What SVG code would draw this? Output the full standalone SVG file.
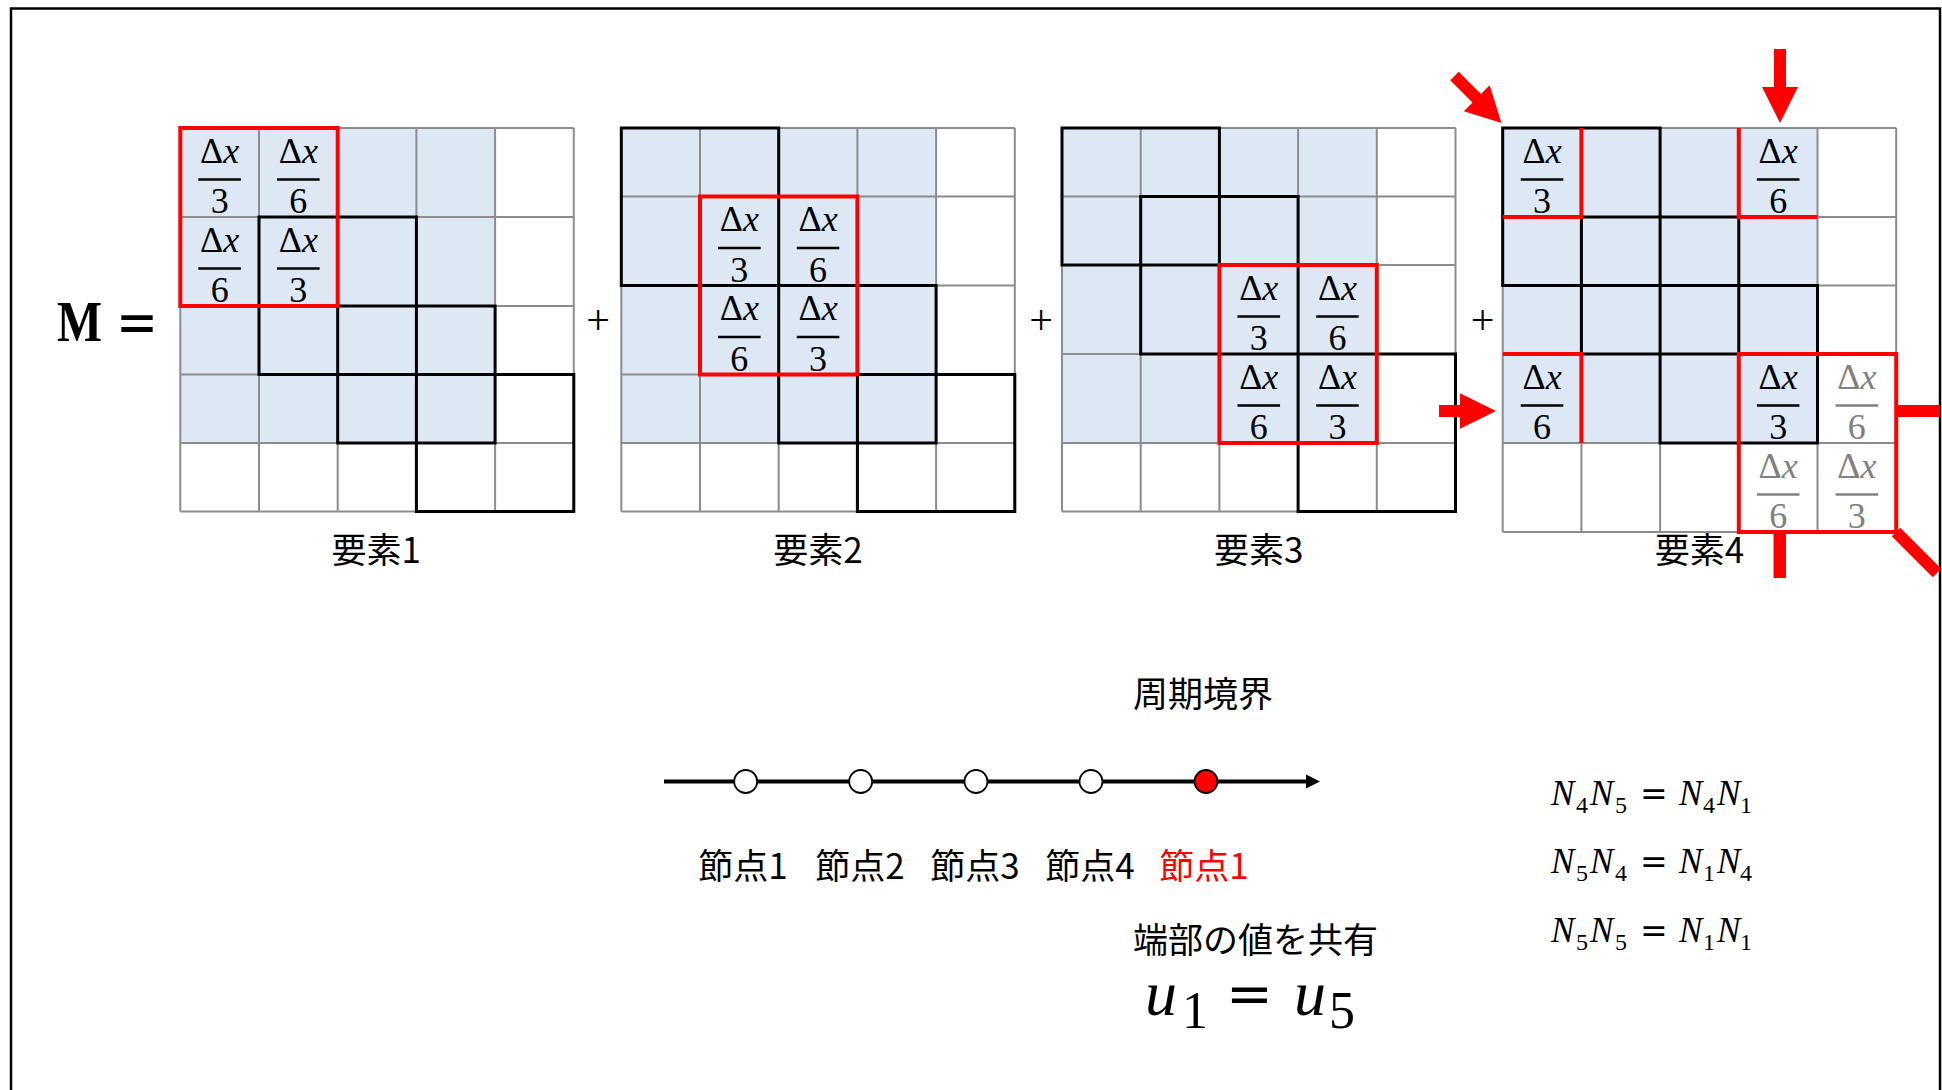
<svg xmlns="http://www.w3.org/2000/svg" width="1942" height="1090" viewBox="0 0 1942 1090">
<style>
.grid{stroke:#8c8c8c;stroke-width:2;fill:none}
.blk{stroke:#000;stroke-width:3;fill:none}
.red{stroke:#ff0000;stroke-width:4;fill:none}
.shade{fill:#dee8f5}
.num{font-family:"Liberation Serif","DejaVu Serif",serif;font-size:36px;text-anchor:middle;fill:#000}
.it{font-style:italic}
.bar{stroke:#000;stroke-width:2.3}
.gr .num{fill:#808080}
.gr .bar{stroke:#808080}
.cjk{font-family:"Noto Sans CJK JP",sans-serif;font-size:35px;fill:#000}
.lbl{text-anchor:middle}
.plus{font-family:"Liberation Serif",serif;font-size:42px;text-anchor:middle}
.math{font-family:"Liberation Serif",serif;font-style:italic;font-size:35px}
.sub{font-style:normal;font-size:24px}
.eq{font-family:"DejaVu Sans",sans-serif;font-style:normal;font-size:33px}
.arrow{fill:#ff0000}
.node{fill:#fff;stroke:#000;stroke-width:1.8}
</style>

<path id="frame" d="M11,1092 V8.5 H1940 V1092" fill="none" stroke="#000" stroke-width="2.5"/>

<g id="M-label">
<text x="57" y="340.5" font-family="Liberation Serif,serif" font-weight="bold" font-size="58" textLength="45" lengthAdjust="spacingAndGlyphs">M</text>
<text x="116" y="342" font-family="DejaVu Sans,sans-serif" font-size="58" textLength="42" lengthAdjust="spacingAndGlyphs">=</text>
</g>

<!-- Matrix 1 -->
<g id="matrix1" transform="translate(180.3,0)">
<rect class="shade" x="0" y="128" width="314.8" height="315"/>
<path class="grid" d="M0,128V511.5M78.7,128V511.5M157.4,128V511.5M236.1,128V511.5M314.8,128V511.5M393.5,128V511.5M0,128H393.5M0,217H393.5M0,306H393.5M0,374.5H393.5M0,443H393.5M0,511.5H393.5"/>
<rect class="blk" x="78.7" y="217" width="157.4" height="157.5"/>
<rect class="blk" x="157.4" y="306" width="157.4" height="137"/>
<rect class="blk" x="236.1" y="374.5" width="157.4" height="137"/>
<rect class="red" x="0" y="128" width="157.4" height="178"/>
<g transform="translate(39.35,128)"><text class="num" y="34.5">Δ<tspan class="it">x</tspan></text><line class="bar" x1="-21.3" x2="21.3" y1="51.5" y2="51.5"/><text class="num" y="85">3</text></g>
<g transform="translate(118.05,128)"><text class="num" y="34.5">Δ<tspan class="it">x</tspan></text><line class="bar" x1="-21.3" x2="21.3" y1="51.5" y2="51.5"/><text class="num" y="85">6</text></g>
<g transform="translate(39.35,217)"><text class="num" y="34.5">Δ<tspan class="it">x</tspan></text><line class="bar" x1="-21.3" x2="21.3" y1="51.5" y2="51.5"/><text class="num" y="85">6</text></g>
<g transform="translate(118.05,217)"><text class="num" y="34.5">Δ<tspan class="it">x</tspan></text><line class="bar" x1="-21.3" x2="21.3" y1="51.5" y2="51.5"/><text class="num" y="85">3</text></g>
<text class="cjk lbl" x="196" y="563">要素1</text>
</g>

<!-- Matrix 2 -->
<g id="matrix2" transform="translate(621.3,0)">
<rect class="shade" x="0" y="128" width="314.8" height="315"/>
<path class="grid" d="M0,128V511.5M78.7,128V511.5M157.4,128V511.5M236.1,128V511.5M314.8,128V511.5M393.5,128V511.5M0,128H393.5M0,196.5H393.5M0,285.5H393.5M0,374.5H393.5M0,443H393.5M0,511.5H393.5"/>
<rect class="blk" x="0" y="128" width="157.4" height="157.5"/>
<rect class="blk" x="157.4" y="285.5" width="157.4" height="157.5"/>
<rect class="blk" x="236.1" y="374.5" width="157.4" height="137"/>
<rect class="red" x="78.7" y="196.5" width="157.4" height="178"/>
<g transform="translate(118.05,196.5)"><text class="num" y="34.5">Δ<tspan class="it">x</tspan></text><line class="bar" x1="-21.3" x2="21.3" y1="51.5" y2="51.5"/><text class="num" y="85">3</text></g>
<g transform="translate(196.75,196.5)"><text class="num" y="34.5">Δ<tspan class="it">x</tspan></text><line class="bar" x1="-21.3" x2="21.3" y1="51.5" y2="51.5"/><text class="num" y="85">6</text></g>
<g transform="translate(118.05,285.5)"><text class="num" y="34.5">Δ<tspan class="it">x</tspan></text><line class="bar" x1="-21.3" x2="21.3" y1="51.5" y2="51.5"/><text class="num" y="85">6</text></g>
<g transform="translate(196.75,285.5)"><text class="num" y="34.5">Δ<tspan class="it">x</tspan></text><line class="bar" x1="-21.3" x2="21.3" y1="51.5" y2="51.5"/><text class="num" y="85">3</text></g>
<text class="cjk lbl" x="196.75" y="563">要素2</text>
</g>

<!-- Matrix 3 -->
<g id="matrix3" transform="translate(1062,0)">
<rect class="shade" x="0" y="128" width="314.8" height="315"/>
<path class="grid" d="M0,128V511.5M78.7,128V511.5M157.4,128V511.5M236.1,128V511.5M314.8,128V511.5M393.5,128V511.5M0,128H393.5M0,196.5H393.5M0,265H393.5M0,354H393.5M0,443H393.5M0,511.5H393.5"/>
<rect class="blk" x="0" y="128" width="157.4" height="137"/>
<rect class="blk" x="78.7" y="196.5" width="157.4" height="157.5"/>
<rect class="blk" x="236.1" y="354" width="157.4" height="157.5"/>
<rect class="red" x="157.4" y="265" width="157.4" height="178"/>
<g transform="translate(196.75,265)"><text class="num" y="34.5">Δ<tspan class="it">x</tspan></text><line class="bar" x1="-21.3" x2="21.3" y1="51.5" y2="51.5"/><text class="num" y="85">3</text></g>
<g transform="translate(275.45,265)"><text class="num" y="34.5">Δ<tspan class="it">x</tspan></text><line class="bar" x1="-21.3" x2="21.3" y1="51.5" y2="51.5"/><text class="num" y="85">6</text></g>
<g transform="translate(196.75,354)"><text class="num" y="34.5">Δ<tspan class="it">x</tspan></text><line class="bar" x1="-21.3" x2="21.3" y1="51.5" y2="51.5"/><text class="num" y="85">6</text></g>
<g transform="translate(275.45,354)"><text class="num" y="34.5">Δ<tspan class="it">x</tspan></text><line class="bar" x1="-21.3" x2="21.3" y1="51.5" y2="51.5"/><text class="num" y="85">3</text></g>
<text class="cjk lbl" x="196.75" y="563">要素3</text>
</g>

<!-- Matrix 4 -->
<g id="matrix4" transform="translate(1502.7,0)">
<rect class="shade" x="0" y="128" width="314.8" height="315"/>
<path class="grid" d="M0,128V532M78.7,128V532M157.4,128V532M236.1,128V532M314.8,128V532M393.5,128V532M0,128H393.5M0,217H393.5M0,285.5H393.5M0,354H393.5M0,443H393.5M0,532H393.5"/>
<rect class="blk" x="0" y="128" width="157.4" height="157.5"/>
<rect class="blk" x="78.7" y="217" width="157.4" height="137"/>
<rect class="blk" x="157.4" y="285.5" width="157.4" height="157.5"/>
<rect class="red" x="236.1" y="354" width="157.4" height="178"/>
<path class="red" d="M78.7,128V217H0M236.1,128V217H314.8M0,354H78.7V443"/>
<g transform="translate(39.35,128)"><text class="num" y="34.5">Δ<tspan class="it">x</tspan></text><line class="bar" x1="-21.3" x2="21.3" y1="51.5" y2="51.5"/><text class="num" y="85">3</text></g>
<g transform="translate(275.45,128)"><text class="num" y="34.5">Δ<tspan class="it">x</tspan></text><line class="bar" x1="-21.3" x2="21.3" y1="51.5" y2="51.5"/><text class="num" y="85">6</text></g>
<g transform="translate(39.35,354)"><text class="num" y="34.5">Δ<tspan class="it">x</tspan></text><line class="bar" x1="-21.3" x2="21.3" y1="51.5" y2="51.5"/><text class="num" y="85">6</text></g>
<g transform="translate(275.45,354)"><text class="num" y="34.5">Δ<tspan class="it">x</tspan></text><line class="bar" x1="-21.3" x2="21.3" y1="51.5" y2="51.5"/><text class="num" y="85">3</text></g>
<g class="gr" transform="translate(354.15,354)"><text class="num" y="34.5">Δ<tspan class="it">x</tspan></text><line class="bar" x1="-21.3" x2="21.3" y1="51.5" y2="51.5"/><text class="num" y="85">6</text></g>
<g class="gr" transform="translate(275.45,443)"><text class="num" y="34.5">Δ<tspan class="it">x</tspan></text><line class="bar" x1="-21.3" x2="21.3" y1="51.5" y2="51.5"/><text class="num" y="85">6</text></g>
<g class="gr" transform="translate(354.15,443)"><text class="num" y="34.5">Δ<tspan class="it">x</tspan></text><line class="bar" x1="-21.3" x2="21.3" y1="51.5" y2="51.5"/><text class="num" y="85">3</text></g>
<text class="cjk lbl" x="196.75" y="563">要素4</text>
</g>

<g id="plus-signs">
<text class="plus" x="598" y="334">+</text>
<text class="plus" x="1041" y="334">+</text>
<text class="plus" x="1482.5" y="334">+</text>
</g>

<g id="connectors">
<polygon class="arrow" points="1774,49 1786,49 1786,87 1798,87 1780,123 1762,87 1774,87"/>
<polygon class="arrow" points="1439,405 1460,405 1460,393.3 1496,411 1460,428.7 1460,417 1439,417"/>
<polygon class="arrow" transform="translate(1501.5,123) rotate(-45)" points="-6,-66.5 6,-66.5 6,-35 18.3,-35 0,0 -18.3,-35 -6,-35"/>
<rect class="arrow" x="1896" y="405" width="44" height="12"/>
<rect class="arrow" x="1773.5" y="532" width="12.5" height="46"/>
<line x1="1896" y1="532" x2="1937" y2="573" stroke="#ff0000" stroke-width="12"/>
<line x1="664" y1="781.5" x2="1308" y2="781.5" stroke="#000" stroke-width="4"/>
<polygon fill="#000" points="1320,781.5 1306,774.5 1306,788.5"/>
</g>

<g id="node1"><circle class="node" cx="745.7" cy="781.5" r="11.5"/><text class="cjk lbl" x="743" y="879">節点1</text></g>
<g id="node2"><circle class="node" cx="860.7" cy="781.5" r="11.5"/><text class="cjk lbl" x="860" y="879">節点2</text></g>
<g id="node3"><circle class="node" cx="976" cy="781.5" r="11.5"/><text class="cjk lbl" x="975" y="879">節点3</text></g>
<g id="node4"><circle class="node" cx="1091" cy="781.5" r="11.5"/><text class="cjk lbl" x="1090" y="879">節点4</text></g>
<g id="node5"><circle cx="1206" cy="781.5" r="11.5" fill="#ff0000" stroke="#000" stroke-width="1.8"/><text class="cjk lbl" x="1204" y="879" style="fill:#ff0000">節点1</text></g>

<text class="cjk" x="1133" y="707">周期境界</text>
<text class="cjk" x="1133" y="953">端部の値を共有</text>

<g id="u-eq">
<text class="math" x="1145" y="1015" style="font-size:64px">u</text>
<text class="math" x="1182" y="1028" style="font-size:52px;font-style:normal">1</text>
<text x="1226" y="1013" font-family="DejaVu Sans,sans-serif" font-size="56">=</text>
<text class="math" x="1294" y="1015" style="font-size:64px">u</text>
<text class="math" x="1329" y="1028" style="font-size:52px;font-style:normal">5</text>
</g>

<g id="n-eqs">
<text class="math" y="805"><tspan x="1551">N</tspan><tspan class="sub" x="1576" y="813">4</tspan><tspan x="1590" y="805">N</tspan><tspan class="sub" x="1615" y="813">5</tspan><tspan class="eq" x="1640" y="805">=</tspan><tspan x="1679">N</tspan><tspan class="sub" x="1703" y="813">4</tspan><tspan x="1717" y="805">N</tspan><tspan class="sub" x="1740" y="813">1</tspan></text>
<text class="math" y="873.3"><tspan x="1551">N</tspan><tspan class="sub" x="1576" y="881.3">5</tspan><tspan x="1590" y="873.3">N</tspan><tspan class="sub" x="1615" y="881.3">4</tspan><tspan class="eq" x="1640" y="873.3">=</tspan><tspan x="1679">N</tspan><tspan class="sub" x="1703" y="881.3">1</tspan><tspan x="1717" y="873.3">N</tspan><tspan class="sub" x="1740" y="881.3">4</tspan></text>
<text class="math" y="941.7"><tspan x="1551">N</tspan><tspan class="sub" x="1576" y="949.7">5</tspan><tspan x="1590" y="941.7">N</tspan><tspan class="sub" x="1615" y="949.7">5</tspan><tspan class="eq" x="1640" y="941.7">=</tspan><tspan x="1679">N</tspan><tspan class="sub" x="1703" y="949.7">1</tspan><tspan x="1717" y="941.7">N</tspan><tspan class="sub" x="1740" y="949.7">1</tspan></text>
</g>
</svg>
